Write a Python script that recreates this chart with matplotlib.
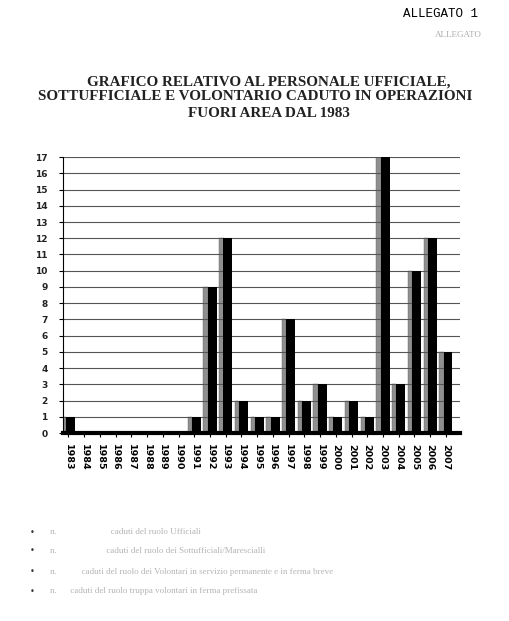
import matplotlib
matplotlib.use("Agg")
import matplotlib.pyplot as plt

# years and number of fallen personnel per year
years = list(range(1983, 2008))
caduti = [1, 0, 0, 0, 0, 0, 0, 0, 1, 9, 12, 2, 1, 1, 7, 2, 3, 1, 2, 1, 17, 3, 10, 12, 5]
y_ticks = list(range(0, 18))

title_lines = [
    "GRAFICO RELATIVO AL PERSONALE UFFICIALE,",
    "SOTTUFFICIALE E VOLONTARIO CADUTO IN OPERAZIONI",
    "FUORI AREA DAL 1983",
]
bullet_texts = [
    "n.                        caduti del ruolo Ufficiali",
    "n.                      caduti del ruolo dei Sottufficiali/Marescialli",
    "n.           caduti del ruolo dei Volontari in servizio permanente e in ferma breve",
    "n.      caduti del ruolo truppa volontari in ferma prefissata",
]

fig = plt.figure(figsize=(5.10, 6.21), dpi=100)
fig.patch.set_facecolor("white")

# header
fig.text(0.938, 0.987, "ALLEGATO 1", family="Liberation Mono", fontsize=9,
         ha="right", va="top")
fig.text(0.945, 0.950, "ALLEGATO", family="Liberation Serif", fontsize=6.5,
         ha="right", va="top", color="#aaaaaa")

title_y = [0.868, 0.844, 0.818]
title_x = [0.527, 0.50, 0.527]
for line, tx, ty in zip(title_lines, title_x, title_y):
    fig.text(tx, ty, line, family="Liberation Serif", fontweight="bold",
             fontsize=10.9, ha="center", va="center", color="#222222")

ax = fig.add_axes([0.1235, 0.3027, 0.7785, 0.4443])

# 3D-like bars: grey front strip and dark body
grey_x = [y - 0.42 for y in years]
black_x = [y - 0.15 for y in years]
ax.bar(grey_x, caduti, width=0.28, align="edge", color="#8f8f8f",
       edgecolor="#666666", linewidth=0.3, zorder=1)
ax.bar(black_x, caduti, width=0.57, align="edge", color="black", zorder=3)

ax.set_xlim(1982.65, 2007.9)
ax.set_ylim(0, 17)
ax.set_axisbelow("line")
ax.yaxis.grid(True, color="#555555", linewidth=0.8)
ax.set_yticks(y_ticks)
ax.set_yticklabels([str(v) for v in y_ticks], fontweight="bold", fontsize=6.5,
                   family="DejaVu Sans", color="#222222")
ax.tick_params(axis="y", length=3, pad=8, width=0.8)

ax.set_xticks(years)
ax.set_xticklabels([str(y) for y in years], rotation=270, fontweight="bold",
                   fontsize=6.8, family="DejaVu Sans", va="top", ha="center")
ax.tick_params(axis="x", length=3, pad=5, width=0.8)

for side in ["top", "right"]:
    ax.spines[side].set_visible(False)
ax.spines["left"].set_linewidth(0.8)
ax.spines["bottom"].set_linewidth(3.0)

# notes below the chart (faint in the scan)
bullet_y = [0.143, 0.113, 0.079, 0.048]
for txt, by in zip(bullet_texts, bullet_y):
    fig.text(0.059, by, "\u2022", fontsize=6, color="#333333", va="center")
    fig.text(0.098, by, txt, fontsize=6.5, color="#b5b5b5", va="center",
             family="Liberation Serif")

fig.savefig("out.png", dpi=100, facecolor="white")
